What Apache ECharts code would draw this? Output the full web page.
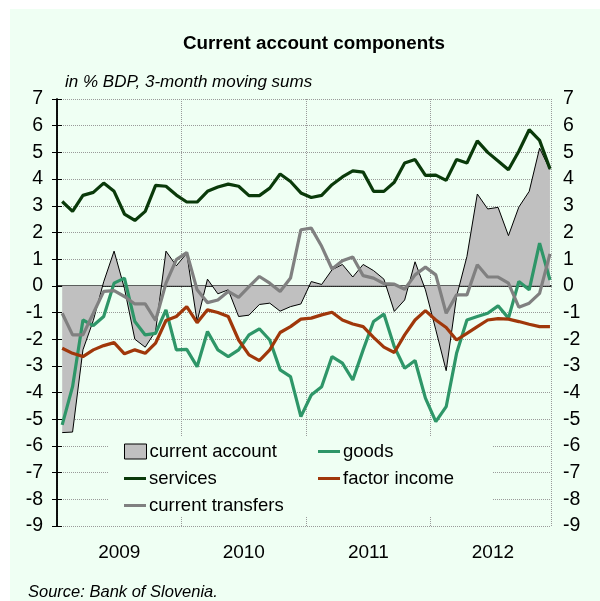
<!DOCTYPE html>
<html><head><meta charset="utf-8">
<script src="https://cdn.jsdelivr.net/npm/echarts@6/dist/echarts.min.js"></script>
<style>html,body{margin:0;padding:0;background:#fff}#c{width:600px;height:601px}</style>
</head><body><div id="c"></div>
<script>
const years = ['2009', '2010', '2011', '2012'];
const yTicks = [-9, -8, -7, -6, -5, -4, -3, -2, -1, 0, 1, 2, 3, 4, 5, 6, 7];
const currentAccount = [-5.5, -5.48, -2.4, -1.3, 0.15, 1.3, -0.1, -2.0, -2.3, -1.7, 1.3, 0.75, 1.22, -1.34, 0.25, -0.3, -0.15, -1.15, -1.1, -0.7, -0.65, -0.95, -0.78, -0.68, 0.16, 0.05, 0.6, 0.8, 0.33, 0.8, 0.57, 0.25, -0.96, -0.53, 0.9, -0.15, -1.65, -3.18, -0.4, 1.1, 3.44, 2.88, 2.94, 1.88, 2.95, 3.54, 5.16, 4.35];
const goods = [-5.21, -3.78, -1.28, -1.49, -1.15, 0.1, 0.29, -1.34, -1.84, -1.78, -0.9, -2.4, -2.38, -3.03, -1.71, -2.4, -2.65, -2.4, -1.84, -1.61, -2.03, -3.15, -3.4, -4.9, -4.09, -3.78, -2.65, -2.9, -3.53, -2.4, -1.34, -1.06, -2.28, -3.09, -2.8, -4.21, -5.09, -4.53, -2.53, -1.28, -1.15, -1.03, -0.75, -1.21, 0.16, -0.15, 1.6, 0.22];
const services = [3.16, 2.79, 3.39, 3.5, 3.85, 3.54, 2.69, 2.45, 2.79, 3.76, 3.73, 3.4, 3.14, 3.14, 3.54, 3.7, 3.81, 3.73, 3.38, 3.38, 3.66, 4.19, 3.91, 3.48, 3.31, 3.39, 3.79, 4.08, 4.31, 4.26, 3.54, 3.54, 3.88, 4.6, 4.73, 4.14, 4.15, 3.95, 4.73, 4.6, 5.43, 5.0, 4.68, 4.35, 5.04, 5.85, 5.45, 4.38];
const factorIncome = [-2.34, -2.53, -2.65, -2.4, -2.24, -2.13, -2.55, -2.4, -2.53, -2.15, -1.3, -1.15, -0.78, -1.38, -0.9, -1.0, -1.15, -2.03, -2.59, -2.8, -2.4, -1.75, -1.53, -1.25, -1.21, -1.09, -0.99, -1.28, -1.43, -1.53, -1.93, -2.3, -2.5, -1.84, -1.28, -0.93, -1.28, -1.56, -2.03, -1.78, -1.53, -1.28, -1.23, -1.25, -1.34, -1.44, -1.53, -1.53];
const currentTransfers = [-1.03, -1.84, -1.84, -1.03, -0.21, -0.18, -0.4, -0.68, -0.68, -1.3, 0.1, 0.98, 1.25, -0.15, -0.63, -0.53, -0.21, -0.43, -0.03, 0.35, 0.1, -0.21, 0.29, 2.1, 2.16, 1.48, 0.63, 0.94, 1.08, 0.38, 0.29, 0.08, 0.06, -0.13, 0.41, 0.7, 0.41, -1.03, -0.34, -0.34, 0.79, 0.33, 0.33, 0.1, -0.8, -0.65, -0.28, 1.2];

const FONT = "'Liberation Sans Narrow', 'Arial Narrow', 'Liberation Sans', sans-serif";
const BG = '#EFFFF3';
const toXY = arr => arr.map((v, i) => [i + 0.5, v]);
const yearAt = {};
years.forEach((y, k) => { yearAt[6 + 12 * k] = y; });

const chart = echarts.init(document.getElementById('c'), null, {renderer: 'canvas'});
const lineSeries = (name, data, color) => ({
  name, type: 'line', data: toXY(data), symbol: 'none', z: 3,
  lineStyle: {color, width: 3.2}, itemStyle: {color}
});
const legendItem = (name, left, top, icon) => ({
  data: [Object.assign({name}, icon)], left, top, padding: 0,
  itemWidth: 22, z: 6,
  textStyle: {fontFamily: FONT, fontSize: 18.5, color: '#000', padding: [0, 0, 0, -2]}
});
const lineIcon = c => ({icon: 'rect', itemStyle: {color: c, borderWidth: 0}});

chart.setOption({
  backgroundColor: '#fff',
  animation: false,
  graphic: [
    {type: 'rect', shape: {x: 10, y: 9, width: 590, height: 592}, style: {fill: BG}, z: -10, silent: true},
    {type: 'rect', shape: {x: 108, y: 437, width: 384, height: 80}, style: {fill: BG}, z: 1, silent: true}
  ],
  title: [
    {text: 'Current account components', left: 183, top: 34, padding: 0,
     textStyle: {fontFamily: FONT, fontSize: 18.8, fontWeight: 'bold', color: '#000'}},
    {text: 'in % BDP, 3-month moving sums', left: 65, top: 74, padding: 0,
     textStyle: {fontFamily: FONT, fontSize: 17, fontStyle: 'italic', fontWeight: 'normal', color: '#000'}},
    {text: 'Source: Bank of Slovenia.', left: 28, top: 584, padding: 0,
     textStyle: {fontFamily: FONT, fontSize: 16.5, fontStyle: 'italic', fontWeight: 'normal', color: '#000'}}
  ],
  legend: [
    Object.assign(legendItem('current account', 124, 442, {icon: 'rect', itemStyle: {color: '#C0C0C0', borderColor: '#000', borderWidth: 1}}), {itemHeight: 15}),
    Object.assign(legendItem('goods', 318, 442, lineIcon('#2E9668')), {itemHeight: 3}),
    Object.assign(legendItem('services', 124, 469, lineIcon('#0A3A0A')), {itemHeight: 3}),
    Object.assign(legendItem('factor income', 318, 469, lineIcon('#A0370A')), {itemHeight: 3}),
    Object.assign(legendItem('current transfers', 124, 496, lineIcon('#808080')), {itemHeight: 3})
  ],
  grid: {left: 57, right: 49, top: 99, bottom: 75, containLabel: false},
  xAxis: [
    {type: 'value', min: 0, max: 47.6, interval: 12, position: 'bottom',
     axisLine: {show: true, onZero: true, lineStyle: {color: '#000', width: 1.5}},
     axisTick: {show: false}, axisLabel: {show: false},
     splitLine: {show: true, lineStyle: {color: '#9a9a9a', type: 'dotted', width: 1}}},
    {type: 'value', min: 0, max: 47.6, interval: 6, position: 'bottom',
     axisLine: {show: false, onZero: false}, axisTick: {show: false}, splitLine: {show: false},
     axisLabel: {show: true, margin: 17, fontFamily: FONT, fontSize: 19, color: '#000',
       showMinLabel: true, showMaxLabel: false,
       formatter: v => yearAt[Math.round(v)] && Math.abs(v - Math.round(v)) < 1e-6 ? yearAt[Math.round(v)] : ''}}
  ],
  yAxis: [
    {type: 'value', min: yTicks[0], max: yTicks[yTicks.length - 1], interval: 1, position: 'left',
     axisLine: {show: true, lineStyle: {color: '#000', width: 1.5}},
     axisTick: {show: true, inside: false, length: 5, lineStyle: {color: '#000'}},
     axisLabel: {margin: 14, fontFamily: FONT, fontSize: 19.5, color: '#000'},
     splitLine: {show: true, lineStyle: {color: '#9a9a9a', type: 'dotted', width: 1}}},
    {type: 'value', min: yTicks[0], max: yTicks[yTicks.length - 1], interval: 1, position: 'right',
     axisLine: {show: true, lineStyle: {color: '#000', width: 1.5}},
     axisTick: {show: true, inside: false, length: 5, lineStyle: {color: '#000'}},
     axisLabel: {margin: 12, fontFamily: FONT, fontSize: 19.5, color: '#000'},
     splitLine: {show: false}}
  ],
  series: [
    {name: 'current account', type: 'line', data: toXY(currentAccount), symbol: 'none', z: 2,
     lineStyle: {color: '#000', width: 1}, itemStyle: {color: '#C0C0C0'},
     areaStyle: {color: '#C0C0C0', opacity: 1, origin: 0}},
    lineSeries('goods', goods, '#2E9668'),
    lineSeries('services', services, '#0A3A0A'),
    lineSeries('factor income', factorIncome, '#A0370A'),
    lineSeries('current transfers', currentTransfers, '#808080')
  ]
});
</script></body></html>
